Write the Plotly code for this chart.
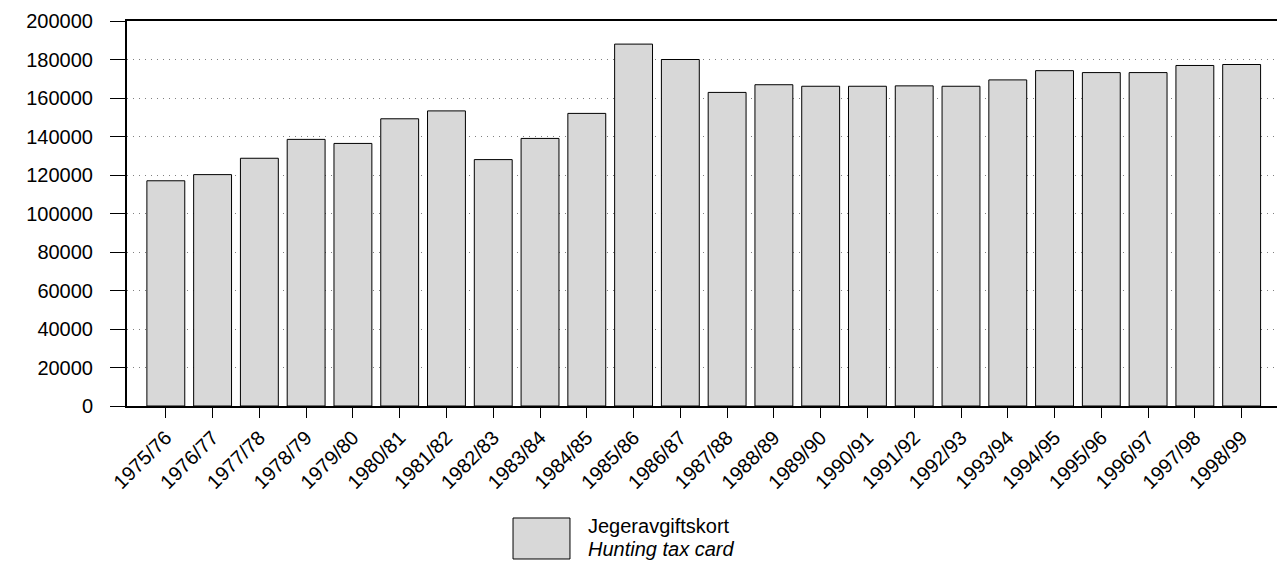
import plotly.graph_objects as go

seasons = ["1975/76", "1976/77", "1977/78", "1978/79", "1979/80", "1980/81",
           "1981/82", "1982/83", "1983/84", "1984/85", "1985/86", "1986/87",
           "1987/88", "1988/89", "1989/90", "1990/91", "1991/92", "1992/93",
           "1993/94", "1994/95", "1995/96", "1996/97", "1997/98", "1998/99"]
hunting_cards = [117000, 120200, 128700, 138500, 136400, 149200,
                 153300, 128000, 139000, 152000, 188000, 180000,
                 162900, 166900, 166100, 166100, 166300, 166100,
                 169400, 174200, 173200, 173200, 176900, 177400]
legend_main = "Jegeravgiftskort"
legend_sub = "Hunting tax card"
y_ticks = list(range(0, 200001, 20000))

FONT = "Liberation Sans, Arial, sans-serif"
BAR_FILL = "#d8d8d8"

fig = go.Figure()
fig.add_trace(go.Bar(
    x=seasons, y=hunting_cards,
    marker=dict(color=BAR_FILL, line=dict(color="black", width=1)),
    showlegend=False,
))

# page body has an 8px margin, so the figure is sized/offset to compensate
fig.update_layout(
    width=1277, height=554,
    margin=dict(l=119, r=5, t=13, b=156, autoexpand=False),
    paper_bgcolor="white", plot_bgcolor="white",
    bargap=0.19,
    font=dict(family=FONT, size=20, color="black"),
    xaxis=dict(
        type="category",
        automargin=False,
        range=[-0.83, 23.82],
        showline=True, linecolor="black", linewidth=2, mirror=True,
        ticks="outside", ticklen=10, tickcolor="black", tickwidth=1,
        tickangle=-45,
        tickfont=dict(family=FONT, size=20, color="black"),
        showgrid=False,
    ),
    yaxis=dict(
        range=[0, 200000],
        automargin=False,
        tickvals=y_ticks,
        tickformat="d",
        showline=True, linecolor="black", linewidth=2, mirror=True,
        ticks="outside", ticklen=15, tickcolor="black", tickwidth=1,
        ticklabelstandoff=13,
        ticklabeloverflow="allow",
        tickfont=dict(family=FONT, size=20, color="black"),
        showgrid=True, gridcolor="#808080", gridwidth=1, griddash="1px,5px",
        zeroline=False,
    ),
)

# Legend drawn manually to match the large swatch of the reference
fig.add_shape(type="rect", xref="paper", yref="paper",
              x0=0.3348, x1=0.3842, y0=-0.3974, y1=-0.2909,
              fillcolor=BAR_FILL, line=dict(color="black", width=1))
fig.add_annotation(xref="paper", yref="paper", x=0.3985, y=-0.3117,
                   xanchor="left", yanchor="middle", showarrow=False,
                   text=legend_main, font=dict(family=FONT, size=20, color="black"))
fig.add_annotation(xref="paper", yref="paper", x=0.3985, y=-0.3714,
                   xanchor="left", yanchor="middle", showarrow=False,
                   text="<i>" + legend_sub + "</i>",
                   font=dict(family=FONT, size=20, color="black"))

fig.write_html("out.html")
